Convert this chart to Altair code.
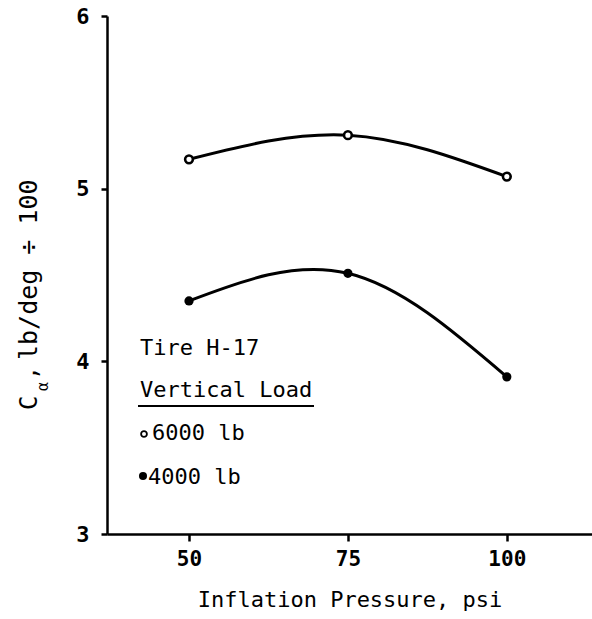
import altair as alt
import pandas as pd

# ---- data ----
pressure = [50, 75, 100]
ca_6000 = [5.17, 5.31, 5.07]
ca_4000 = [4.35, 4.51, 3.91]
series_names = ["6000 lb", "4000 lb"]
x_ticks = [50, 75, 100]
y_ticks = [3, 4, 5, 6]
legend_lines = ["Tire H-17", "Vertical Load"]
x_title = "Inflation Pressure, psi"
y_title_main = "C"
y_title_sub = "α"
y_title_comma = ","
y_title_rest = "lb/deg ÷ 100"

rows = []
for p, a, b in zip(pressure, ca_6000, ca_4000):
    rows.append({"p": p, "ca": a, "load": series_names[0]})
    rows.append({"p": p, "ca": b, "load": series_names[1]})
df = pd.DataFrame(rows)

FONT = "DejaVu Sans Mono"
W, H = 485, 518

xenc = alt.X(
    "p:Q",
    scale=alt.Scale(domain=[37.1, 113.4], nice=False, zero=False),
    axis=alt.Axis(
        values=x_ticks, title=x_title, grid=False, format="d",
        domainColor="black", domainWidth=2.5, tickColor="black", tickWidth=2.5,
        tickSize=7, labelFont=FONT, labelFontSize=21, labelFontWeight="bold",
        labelColor="black", labelPadding=7, titleFont=FONT, titleFontSize=22,
        titleFontWeight="normal", titleColor="black", titlePadding=20,
    ),
)
yenc = alt.Y(
    "ca:Q",
    scale=alt.Scale(domain=[3, 6], nice=False, zero=False),
    axis=alt.Axis(
        values=y_ticks, title=None, grid=False, format="d",
        domainColor="black", domainWidth=2.5, tickColor="black", tickWidth=2.5,
        tickSize=6, labelFont=FONT, labelFontSize=22, labelFontWeight="bold",
        labelColor="black", labelPadding=12,
    ),
)

base = alt.Chart(df)
lines = base.mark_line(interpolate="natural", color="black", strokeWidth=3).encode(
    x=xenc, y=yenc, detail="load:N"
)
open_pts = base.transform_filter(alt.datum.load == series_names[0]).mark_circle(
    fill="white", stroke="black", strokeWidth=2.6, size=60, opacity=1
).encode(x="p:Q", y="ca:Q")
filled_pts = base.transform_filter(alt.datum.load == series_names[1]).mark_circle(
    color="black", size=85, opacity=1
).encode(x="p:Q", y="ca:Q")

one = pd.DataFrame({"k": [0]})

def txt(s, x, y, size=22, angle=0, baseline="middle", align="left"):
    kw = dict(font=FONT, fontSize=size, color="black", align=align, baseline=baseline)
    if angle:
        kw["angle"] = angle
    return alt.Chart(one).mark_text(**kw).encode(
        x=alt.value(x), y=alt.value(y), text=alt.value(s)
    )

leg1 = txt(legend_lines[0], 33, 332)
leg2 = txt(legend_lines[1], 33, 374)
underline = alt.Chart(one).mark_rule(color="black", strokeWidth=2).encode(
    x=alt.value(31), x2=alt.value(207), y=alt.value(390)
)
sym_open = alt.Chart(one).mark_circle(
    fill="white", stroke="black", strokeWidth=1.8, size=34, opacity=1
).encode(x=alt.value(37), y=alt.value(418))
lab_open = txt(series_names[0], 45, 417)
sym_fill = alt.Chart(one).mark_circle(color="black", size=65, opacity=1).encode(
    x=alt.value(36), y=alt.value(460)
)
lab_fill = txt(series_names[1], 41, 461)

yt1 = txt(y_title_main, -70, 394, size=24, angle=270, baseline="alphabetic")
yt2 = txt(y_title_sub, -59, 375, size=15, angle=270, baseline="alphabetic")
yt3 = txt(y_title_comma, -70, 357, size=24, angle=270, baseline="alphabetic", align="center")
yt4 = txt(y_title_rest, -70, 344, size=25, angle=270, baseline="alphabetic")

chart = alt.layer(
    lines, open_pts, filled_pts,
    leg1, leg2, underline, sym_open, lab_open, sym_fill, lab_fill,
    yt1, yt2, yt3, yt4,
).properties(
    width=W, height=H,
    autosize=alt.AutoSizeParams(type="none"),
    padding={"left": 107, "top": 16, "right": 0, "bottom": 85},
    background="white",
).configure_view(strokeWidth=0)

chart.save("out.html", embed_options={"renderer": "svg", "actions": False})
